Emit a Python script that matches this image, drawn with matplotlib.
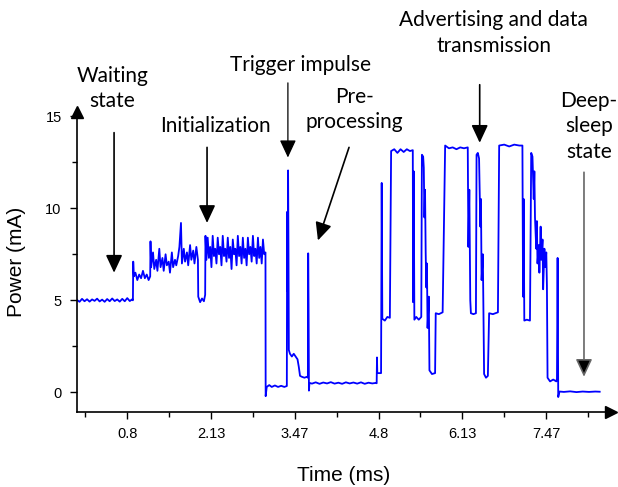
import matplotlib
matplotlib.use('Agg')
import matplotlib.pyplot as plt

# Power trace (time in ms, current in mA), one list per phase
waiting_t = [0.00, 0.04, 0.08, 0.12, 0.16, 0.20, 0.24, 0.28, 0.32, 0.36, 0.40, 0.44,
             0.48, 0.52, 0.56, 0.60, 0.64, 0.68, 0.72, 0.76, 0.80, 0.84, 0.88]
waiting_p = [5.02, 4.92, 5.08, 4.95, 5.06, 4.93, 5.05, 4.97, 5.09, 4.94, 5.04, 4.92,
             5.07, 4.95, 5.10, 4.96, 5.05, 4.93, 5.08, 4.95, 5.12, 4.96, 5.06]

init_t = [0.89, 0.895, 0.905, 0.93, 0.96, 0.99, 1.02, 1.05, 1.08, 1.11, 1.14, 1.165,
          1.17, 1.18, 1.21, 1.23, 1.26, 1.28, 1.31, 1.33, 1.36, 1.38, 1.41, 1.43, 1.46,
          1.48, 1.51, 1.53, 1.56, 1.58, 1.61,
          1.63, 1.655, 1.67, 1.70, 1.72, 1.75, 1.77, 1.80, 1.82, 1.85, 1.87, 1.90, 1.925,
          1.93, 1.96, 1.99, 2.02, 2.04,
          2.045, 2.06, 2.08, 2.10, 2.12, 2.14, 2.16, 2.18, 2.20, 2.22, 2.24, 2.26, 2.28,
          2.30, 2.32, 2.34, 2.36, 2.38, 2.40, 2.42, 2.44, 2.46, 2.48, 2.50, 2.52, 2.54,
          2.56, 2.58, 2.60, 2.62, 2.64, 2.66, 2.68, 2.70, 2.72, 2.74, 2.76, 2.78, 2.80,
          2.82, 2.84, 2.86, 2.88, 2.90, 2.92, 2.94, 2.96, 2.98, 3.00]
init_p = [5.0, 7.1, 6.3, 6.5, 6.1, 6.4, 6.2, 6.6, 6.2, 6.4, 6.1, 6.3,
          8.2, 6.8, 7.6, 6.7, 7.2, 6.6, 7.8, 6.8, 7.3, 6.6, 7.5, 6.9, 7.1,
          6.5, 7.6, 6.8, 7.2, 6.9, 7.4,
          7.9, 9.2, 7.0, 7.8, 7.1, 7.6, 6.9, 8.0, 7.2, 7.7, 7.0, 7.9, 7.2,
          5.2, 4.9, 5.1, 4.95, 5.3,
          8.5, 7.2, 8.4, 7.3, 7.9, 6.8, 8.5, 7.4, 7.8, 7.0, 8.4, 7.5, 7.9,
          6.9, 8.5, 7.4, 7.8, 7.1, 8.4, 7.3, 7.9, 6.7, 8.3, 7.5, 7.8, 6.9,
          8.5, 7.4, 7.9, 7.0, 8.4, 7.3, 7.8, 6.9, 8.4, 7.5, 7.9, 7.1, 8.5,
          7.4, 7.8, 7.0, 8.4, 7.3, 7.9, 7.0, 8.3, 7.5, 7.6]

trigger_t = [3.003, 3.02, 3.06, 3.10, 3.15, 3.20, 3.25, 3.30, 3.34, 3.345, 3.352, 3.36,
             3.366, 3.372, 3.39, 3.42, 3.45, 3.48, 3.51, 3.53, 3.55, 3.58, 3.62, 3.66,
             3.675, 3.68, 3.686, 3.692, 3.70]
trigger_p = [-0.2, 0.3, 0.4, 0.3, 0.38, 0.3, 0.36, 0.3, 0.35, 9.8, 5.5, 12.05,
             8.0, 2.3, 2.1, 1.95, 2.1, 1.95, 1.8, 1.4, 0.9, 0.85, 0.8, 0.85,
             0.8, 7.55, 4.8, 0.1, 0.52]

idle_t = [3.74, 3.80, 3.86, 3.92, 3.98, 4.04, 4.10, 4.16, 4.22, 4.28, 4.34, 4.40,
          4.46, 4.52, 4.58, 4.64, 4.70, 4.76]
idle_p = [0.48, 0.55, 0.47, 0.54, 0.49, 0.56, 0.48, 0.53, 0.47, 0.55, 0.49, 0.54,
          0.48, 0.55, 0.47, 0.53, 0.49, 0.52]

adv_t = [4.77, 4.775, 4.78, 4.84, 4.85, 4.86, 4.90, 4.94, 4.98,
         5.00, 5.05, 5.10, 5.15, 5.20, 5.25, 5.30, 5.345, 5.35, 5.36, 5.37, 5.40, 5.44, 5.48,
         5.49, 5.51, 5.52, 5.53, 5.54, 5.55, 5.56, 5.57, 5.58, 5.60, 5.61, 5.65, 5.70,
         5.71, 5.76, 5.82,
         5.86, 5.92, 5.98, 6.04, 6.10, 6.16, 6.22, 6.23, 6.245, 6.26, 6.27, 6.31, 6.35,
         6.36, 6.38, 6.40, 6.42, 6.43, 6.44, 6.46, 6.48, 6.51, 6.54, 6.56, 6.62, 6.70,
         6.72, 6.80, 6.88, 6.96, 7.04, 7.09, 7.10, 7.11, 7.12, 7.16, 7.21,
         7.23, 7.25, 7.27, 7.28, 7.29, 7.31, 7.32, 7.33, 7.35, 7.36, 7.38, 7.39, 7.41,
         7.42, 7.44, 7.45, 7.47, 7.48, 7.49, 7.53, 7.58, 7.63, 7.64, 7.65, 7.66, 7.68]
adv_p = [0.5, 1.9, 1.05, 1.05, 11.37, 4.0, 3.9, 4.1, 4.05,
         13.1, 13.2, 13.0, 13.2, 13.05, 13.2, 13.1, 13.15, 4.9, 12.0, 3.95, 4.1, 3.95, 4.1,
         12.9, 12.8, 12.2, 9.5, 11.0, 7.6, 5.7, 7.0, 3.5, 5.2, 1.2, 1.0, 1.05,
         4.3, 4.25, 4.35,
         13.4, 13.25, 13.3, 13.2, 13.3, 13.25, 13.3, 7.9, 11.0, 5.0, 4.3, 4.25, 4.3,
         12.9, 13.0, 12.7, 9.0, 10.5, 6.1, 7.5, 1.0, 0.8, 0.9, 4.3, 4.25, 4.35,
         13.4, 13.45, 13.35, 13.45, 13.4, 13.4, 5.2, 10.5, 3.9, 3.95, 3.9,
         13.0, 12.8, 10.5, 12.0, 9.5, 7.8, 9.3, 7.0, 8.0, 6.5, 9.0, 7.2, 8.3,
         5.6, 7.8, 6.8, 7.6, 5.8, 0.8, 0.6, 0.7, 0.6, 0.75, 7.3, -0.25, 0.05]

sleep_t = [7.75, 7.85, 7.95, 8.05, 8.15, 8.25, 8.32]
sleep_p = [0.03, 0.06, 0.02, 0.05, 0.03, 0.05, 0.04]

time_ms = waiting_t + init_t + trigger_t + idle_t + adv_t + sleep_t
power_ma = waiting_p + init_p + trigger_p + idle_p + adv_p + sleep_p

x_major = [0.8, 2.133, 3.467, 4.8, 6.133, 7.467]
x_labels = ['0.8', '2.13', '3.47', '4.8', '6.13', '7.47']
x_minor = [0.133, 1.467, 2.8, 4.133, 5.467, 6.8, 8.133]
y_major = [0, 5, 10, 15]
y_minor = [2.5, 7.5, 12.5]

# annotation text, text position and arrow (start, end)
notes = [
    ('Waiting\nstate', (0.56, 16.5), (0.59, 14.1), (0.59, 6.5), 'black', 1.2),
    ('Initialization', (2.2, 14.45), (2.07, 13.3), (2.07, 9.2), 'black', 1.2),
    ('Trigger impulse', (3.55, 17.75), (3.357, 16.8), (3.357, 12.75), 'black', 0.9),
    ('Pre-\nprocessing', (4.41, 15.35), (4.33, 13.3), (3.835, 8.25), 'black', 1.2),
    ('Advertising and data\ntransmission', (6.63, 19.5), (6.41, 16.7), (6.41, 13.55), 'black', 1.2),
    ('Deep-\nsleep\nstate', (8.15, 14.45), (8.07, 11.95), (8.07, 0.85), '#666666', 1.2),
]

fig = plt.figure(figsize=(6.18, 4.87), dpi=100)
ax = fig.add_axes([77 / 618, 75 / 487, 534 / 618, 300 / 487])

ax.plot(time_ms, power_ma, color='#0000ff', lw=1.3)

ax.set_xlim(0, 8.5)
ax.set_ylim(-1.06, 15.22)
ax.spines['top'].set_visible(False)
ax.spines['right'].set_visible(False)
ax.spines['left'].set_linewidth(1.2)
ax.spines['bottom'].set_linewidth(1.2)

# arrow heads on the axes
ax.plot(1, 0, '>', color='black', ms=9, transform=ax.transAxes, clip_on=False)
ax.plot(0, 1, '^', color='black', ms=9, transform=ax.transAxes, clip_on=False)

ax.set_xticks(x_major)
ax.set_xticklabels(x_labels)
ax.set_xticks(x_minor, minor=True)
ax.set_yticks(y_major)
ax.set_yticks(y_minor, minor=True)
ax.tick_params(which='major', length=5, width=1, direction='out', labelsize=10.5, pad=6)
ax.tick_params(which='minor', length=3.5, width=1, direction='out')
for lab in ax.get_xticklabels() + ax.get_yticklabels():
    lab.set_family('Liberation Sans')

ax.set_xlabel('Time (ms)', fontsize=15, family='Liberation Sans', labelpad=18)
ax.set_ylabel('Power (mA)', fontsize=15, family='Liberation Sans', labelpad=14)

for text, pos, start, end, col, lw in notes:
    ax.annotate('', xy=end, xytext=start,
                arrowprops=dict(arrowstyle='-|>,head_length=0.6,head_width=0.28',
                                mutation_scale=18, ec=col, fc='black', lw=lw,
                                shrinkA=0, shrinkB=0),
                annotation_clip=False)
    ax.text(pos[0], pos[1], text, ha='center', va='center', fontsize=15,
            family='Lato', linespacing=1.35, clip_on=False)

plt.savefig('out.png', dpi=100)
